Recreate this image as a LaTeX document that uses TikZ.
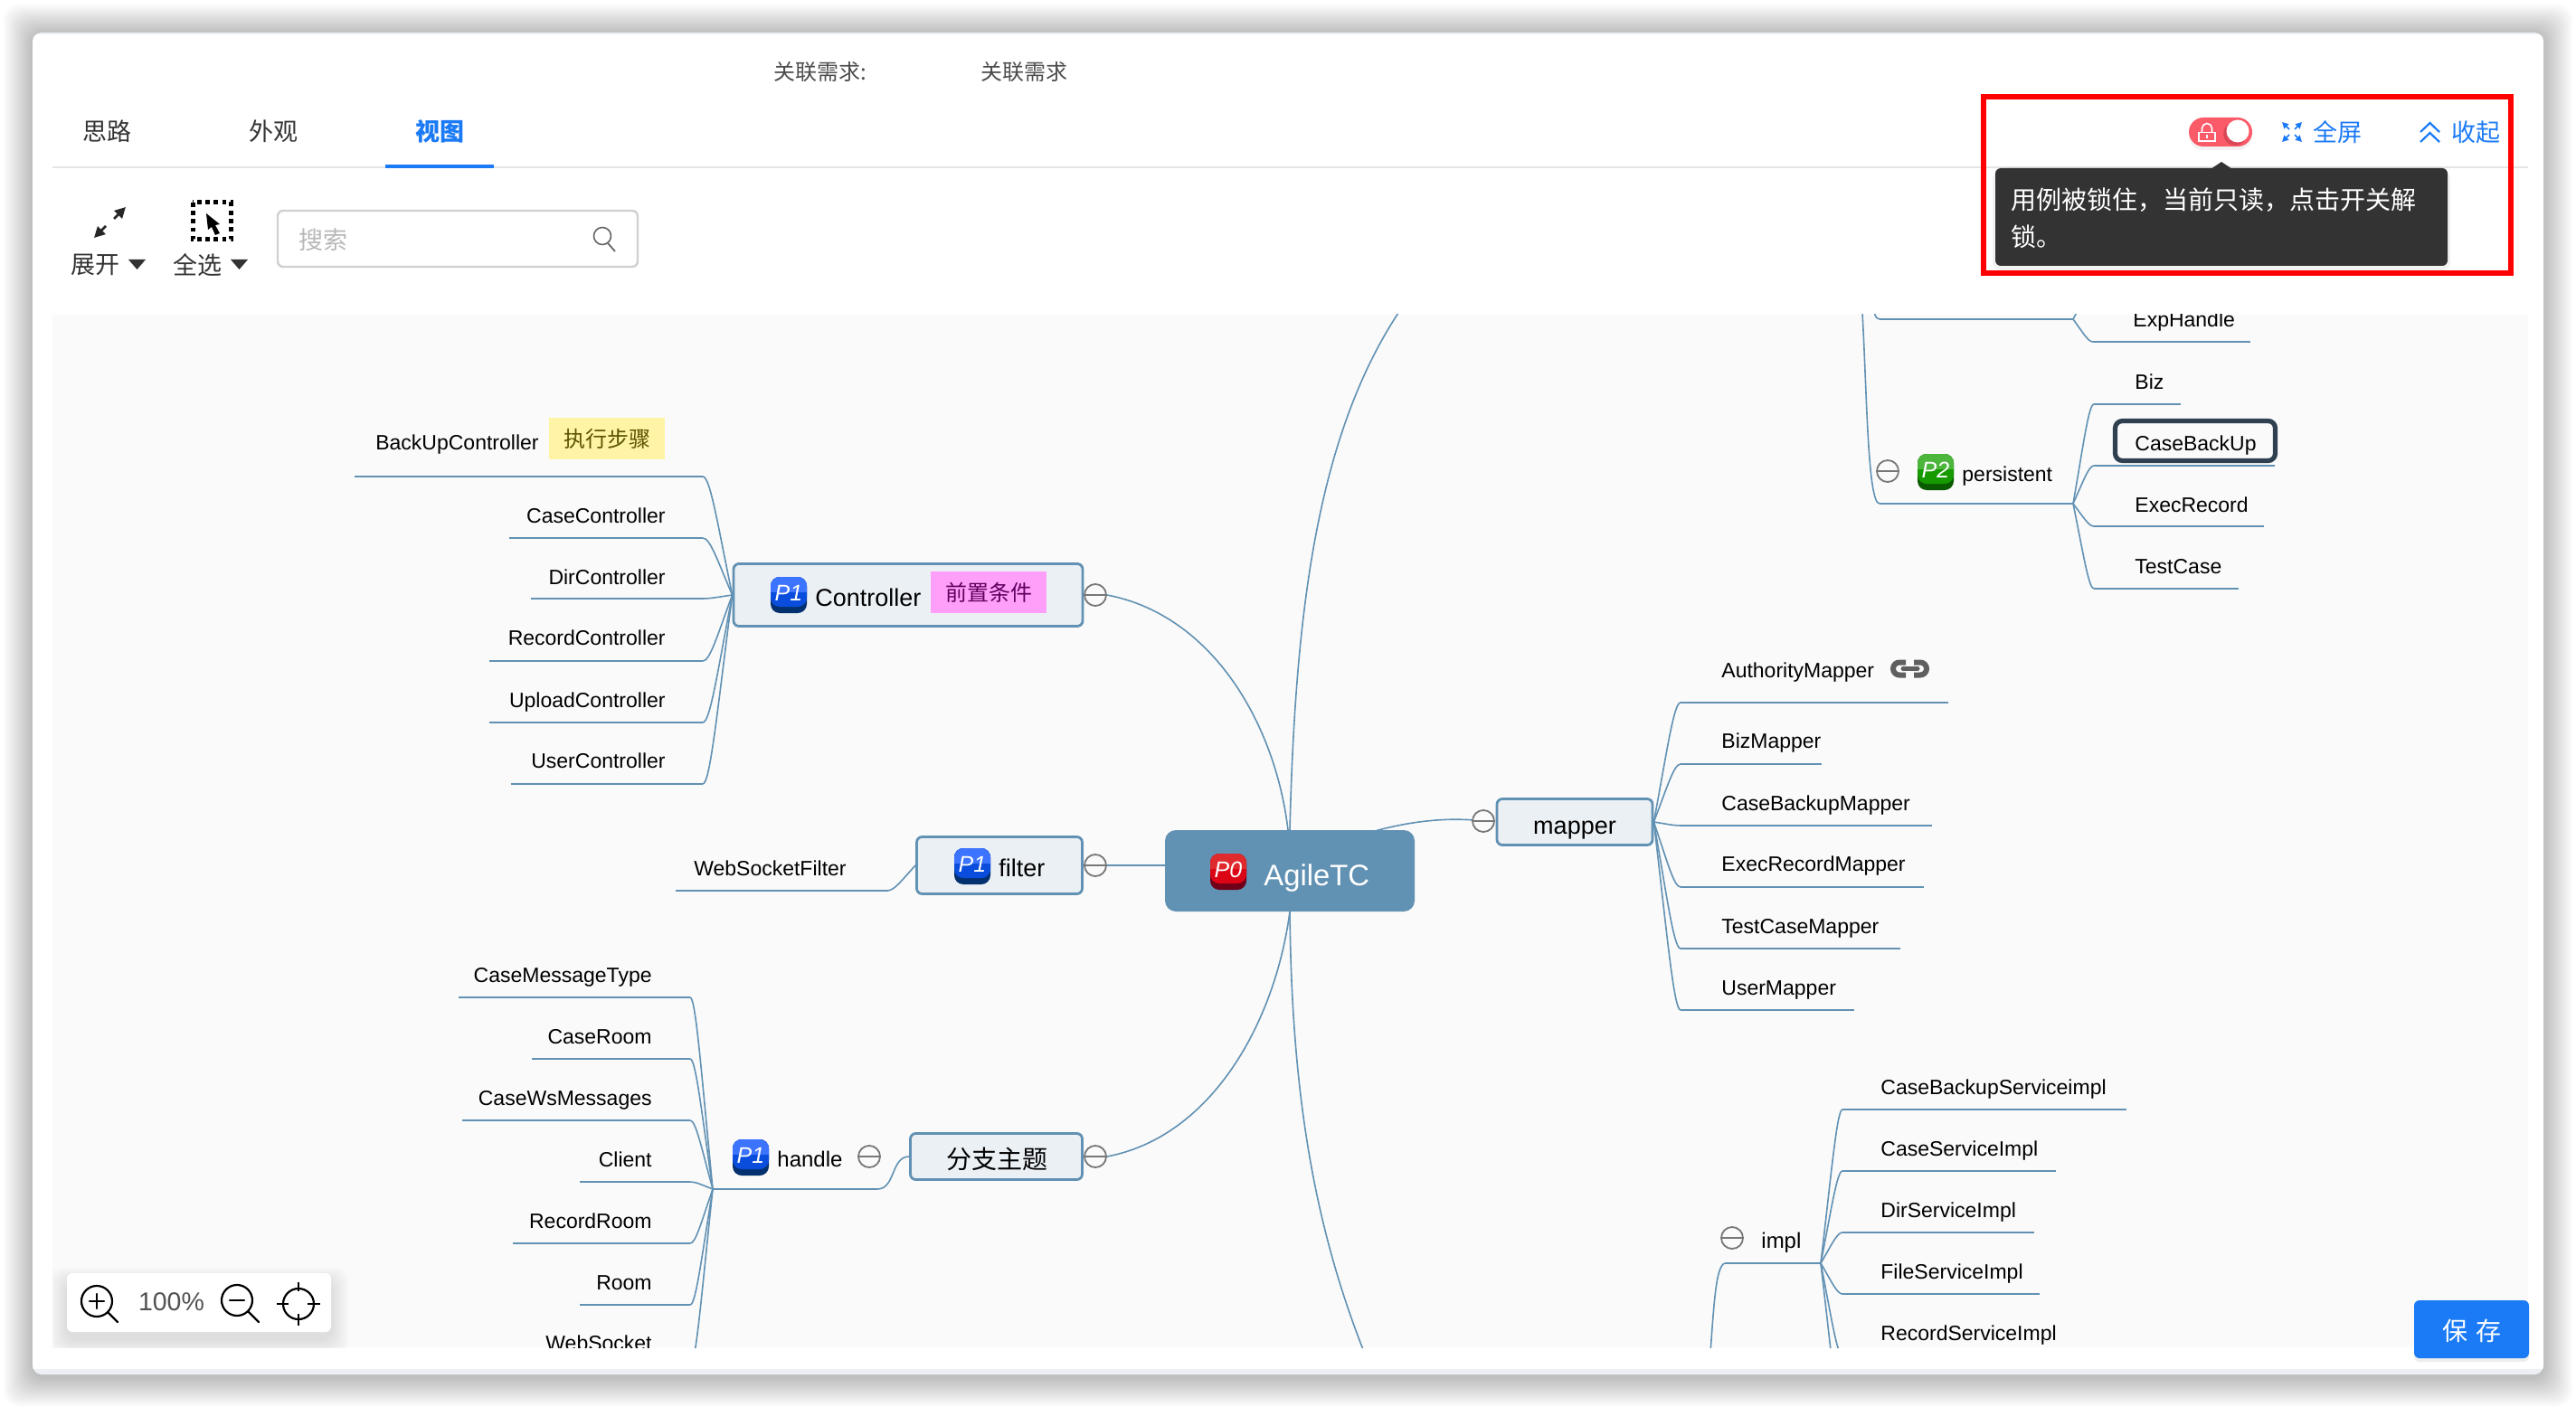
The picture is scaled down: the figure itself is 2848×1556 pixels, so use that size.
\documentclass[tikz,border=0pt]{standalone}
\usepackage{fontspec}
\setmainfont{Liberation Sans}
\newfontfamily\cjk{Noto Sans CJK SC}
\usetikzlibrary{calc,arrows.meta}
\definecolor{linkc}{HTML}{6191B3}
\definecolor{canvasc}{HTML}{FAFAFA}
\definecolor{boxc}{HTML}{EBF0F5}
\definecolor{bluec}{HTML}{1B7AF5}
\definecolor{tipc}{HTML}{333333}
\definecolor{exc}{HTML}{777777}
\definecolor{bandc}{HTML}{ECEFF4}
\definecolor{rulec}{HTML}{E4E4E4}
\definecolor{searchc}{HTML}{D0D0D0}
\definecolor{pta}{HTML}{E02B2E}\definecolor{ptb}{HTML}{DC0515}\definecolor{ptc}{HTML}{6F0018}
\definecolor{pba}{HTML}{3C74FF}\definecolor{pbb}{HTML}{0A4DDC}\definecolor{pbc}{HTML}{03306E}
\definecolor{pga}{HTML}{4CB63C}\definecolor{pgb}{HTML}{169A00}\definecolor{pgc}{HTML}{0A5A00}
\definecolor{pinkc}{HTML}{FF9FF9}\definecolor{pinkt}{HTML}{5E0060}
\definecolor{yelc}{HTML}{FFF3A5}\definecolor{yelt}{HTML}{5C5300}
\definecolor{iconc}{HTML}{5F5F5F}
\definecolor{selc}{HTML}{2F4050}
\definecolor{savesh}{HTML}{EDEDED}
\definecolor{togc}{HTML}{FB5A68}
\definecolor{togd}{HTML}{B03040}
\definecolor{redc}{HTML}{FF0000}
\tikzset{
 link/.style={draw=linkc,line width=.8pt},
 under/.style={draw=linkc,line width=1.2pt},
 leaf/.style={inner sep=0pt,yshift=-1pt,text height=8.4pt,text depth=2.4pt,font=\fontsize{11.5}{14}\selectfont,text=black},
 topic/.style={draw=linkc,fill=boxc,line width=1.4pt,rounded corners=3pt,inner sep=0pt},
 expander/.style={circle,draw=exc,fill=canvasc,line width=.9pt,minimum size=12pt,inner sep=0pt},
 tabtext/.style={inner sep=0pt,font=\cjk\fontsize{13.5}{16}\selectfont,text=black!80},
 bluetext/.style={inner sep=0pt,font=\cjk\fontsize{13.5}{16}\selectfont,text=bluec},
 tag/.style={inner sep=0pt,font=\cjk\fontsize{12}{14}\selectfont},
}
\newcommand\branchlink[2]{\draw[link] let \p1=(#1),\p2=(#2) in (\p1) .. controls ({\x1+.5*(\x2-\x1)},{\y1+.6*(\y2-\y1)}) and ({\x2-.25*(\x2-\x1)},\y2) .. (\p2);}
\newcommand\lf[9]{%
 \node[leaf,anchor=#2] (#1) at (#3,#4) {#5};
 \coordinate (#1-s) at (#6,#7);
 \coordinate (#1-e) at (#8,#7);
 \branchlink{#9}{#1-s}
 \draw[under] (#1-s) -- (#1-e);
}
\newcommand\badge[7]{%
 \fill[#7,rounded corners=5pt] ({#2-20},{#3-20}) rectangle ({#2+20},{#3+20});
 \fill[#6,rounded corners=5pt] ({#2-20},{#3-20}) rectangle ({#2+20},{#3+13});
 \begin{scope}
 \clip[rounded corners=5pt] ({#2-20},{#3-20}) rectangle ({#2+20},{#3+20});
 \fill[#5] ({#2-20},{#3-20}) rectangle ({#2+20},{#3-3});
 \end{scope}
 \node[inner sep=0pt,text=white,font=\itshape\fontsize{12.5}{14}\selectfont] (#1) at (#2,{#3-2}) {#4};
}
\newcommand\exmark[3]{%
 \node[expander] (#1) at (#2,#3) {};
 \draw[exc,line width=.9pt] ($(#1.west)+(2,0)$) -- ($(#1.east)+(-2,0)$);
}
\begin{document}
\begin{tikzpicture}[x=.5pt,y=-.5pt]
\useasboundingbox (0,0) rectangle (2848,1556);
\fill[white] (0,0) rectangle (2848,1556);
% window shadow
\foreach \i in {1,...,16}{
 \fill[black,opacity=.016,rounded corners=8pt] ({36-2*\i},{36-2*\i+1}) rectangle ({2812+2*\i},{1520+2*\i+3});
}
% window
\fill[bandc,rounded corners=5pt] (36,36) rectangle (2812,1520);
\begin{scope}
\clip[rounded corners=5pt] (36,36) rectangle (2812,1520);
\fill[white] (36,38) rectangle (2812,1514);
\end{scope}
% header
\node[tag,text=black!70,anchor=west] (rel1) at (855,80) {关联需求:};
\node[tag,text=black!70,anchor=west] (rel2) at (1084,80) {关联需求};
\node[tabtext] (t1) at (118,145) {思路};
\node[tabtext] (t2) at (302,145) {外观};
\node[tabtext,text=bluec,font=\cjk\bfseries\fontsize{13.5}{16}\selectfont] (t3) at (486,145) {视图};
\draw[rulec,line width=1.2pt] (58,185) -- (2795,185);
\fill[bluec] (426,182.5) rectangle (546,186);
% toolbar
\draw[black!85,line width=1.3pt,-{Triangle[length=6pt,width=6pt]}] (117,250) -- (104,263);
\draw[black!85,line width=1.3pt,-{Triangle[length=6pt,width=6pt]}] (126,242) -- (139,229);
\draw[black,line width=2.5pt,dash pattern=on 2.3pt off 2.3pt] (213,224) rectangle (255,265);
\fill[black] (228,236) -- (243,248) -- (238,249) -- (243,258) -- (238,260) -- (234,251) -- (230,254) -- cycle;
\node[tabtext] (expand) at (105,293) {展开};
\fill[tipc] (142,287) -- (161,287) -- (151.5,298) -- cycle;
\node[tabtext] (selall) at (218,293) {全选};
\fill[tipc] (255,287) -- (274,287) -- (264.5,298) -- cycle;
\draw[searchc,line width=1.2pt,fill=white,rounded corners=3pt] (307,233) rectangle (705,295);
\node[tabtext,text=black!28] (search) at (357,265.5) {搜索};
\draw[black!60,line width=.8pt] (666,261) circle (9.5);
\draw[black!60,line width=.9pt] (672,269) -- (680,278);
% canvas
\begin{scope}
\clip (58,348) rectangle (2795,1490);
\fill[canvasc] (58,348) rectangle (2795,1490);
% main lines
\draw[link] (1426,918) .. controls (1432,680) and (1455,480) .. (1550,340);
\draw[link] (1426,1008) .. controls (1428,1200) and (1450,1350) .. (1510,1500);
\draw[link] (1500,925) .. controls (1540,912) and (1590,902) .. (1640,908);
% root
\node[fill=linkc,rounded corners=6pt,minimum width=138pt,minimum height=45pt,inner sep=0pt] (root) at (1426,963) {};
\node[inner sep=0pt,text=white,font=\fontsize{16.4}{20}\selectfont,anchor=west] (rootlabel) at (1397,971) {AgileTC};
\badge{p0}{1358}{964}{P0}{pta}{ptb}{ptc}
% controller
\node[topic,minimum width=193pt,minimum height=34.5pt] (ctrl) at (1004,658) {};
\badge{pc}{872}{658}{P1}{pba}{pbb}{pbc}
\node[inner sep=0pt,anchor=west,font=\fontsize{13.5}{16}\selectfont] (ctrltext) at (901,661) {Controller};
\node[fill=pinkc,minimum width=64pt,minimum height=23pt,inner sep=0pt] (pretag) at (1093,655) {};
\node[tag,text=pinkt] at (pretag) {前置条件};
\exmark{xc}{1211}{658}
\draw[link] (xc.east) .. controls (1340,680) and (1410,800) .. (1424,918);
\lf{backup}{east}{596}{489}{BackUpController}{777}{527}{392}{ctrl.west}
\node[fill=yelc,minimum width=64pt,minimum height=22.5pt,inner sep=0pt] (exectag) at (671,485) {};
\node[tag,text=yelt] at (exectag) {执行步骤};
\lf{casec}{east}{736}{570}{CaseController}{777}{595}{563}{ctrl.west}
\lf{dirc}{east}{736}{638}{DirController}{777}{662}{587}{ctrl.west}
\lf{recc}{east}{736}{705}{RecordController}{777}{731}{541}{ctrl.west}
\lf{upc}{east}{736}{774}{UploadController}{777}{799}{541}{ctrl.west}
\lf{userc}{east}{736}{841}{UserController}{777}{867}{565}{ctrl.west}
% filter
\node[topic,minimum width=91.5pt,minimum height=31.5pt] (filter) at (1105,957) {};
\badge{pf}{1075}{958}{P1}{pba}{pbb}{pbc}
\node[inner sep=0pt,anchor=west,font=\fontsize{13.5}{16}\selectfont] (filtertext) at (1104,960) {filter};
\exmark{xf}{1211}{957}
\draw[link] (xf.east) -- (root.west |- xf.east);
\lf{wsf}{east}{936}{960}{WebSocketFilter}{981}{985}{747}{filter.west}
% branch topic
\node[topic,minimum width=95pt,minimum height=25.5pt] (subj) at (1101.5,1279) {};
\node[inner sep=0pt,font=\cjk\fontsize{14}{16}\selectfont] (subjtext) at (1102,1282) {分支主题};
\exmark{xs}{1211}{1279}
\draw[link] (xs.east) .. controls (1340,1257) and (1410,1130) .. (1426,1008);
% handle
\coordinate (hhub) at (788,1315);
\coordinate (hhubr) at (970,1315);
\draw[under] (hhub) -- (hhubr);
\draw[link] (hhubr) .. controls (990,1315) and (985,1279) .. (subj.west);
\badge{ph}{830}{1280}{P1}{pba}{pbb}{pbc}
\node[leaf,anchor=west,font=\fontsize{12}{14}\selectfont] (handletext) at (859,1282) {handle};
\exmark{xh}{961}{1279}
\lf{cmt}{east}{721}{1078}{CaseMessageType}{763}{1103}{507}{hhub}
\lf{croom}{east}{721}{1146}{CaseRoom}{763}{1171}{588}{hhub}
\lf{cws}{east}{721}{1214}{CaseWsMessages}{763}{1239}{511}{hhub}
\lf{client}{east}{721}{1282}{Client}{763}{1307}{641}{hhub}
\lf{rroom}{east}{721}{1350}{RecordRoom}{763}{1375}{567}{hhub}
\lf{room}{east}{721}{1418}{Room}{763}{1443}{641}{hhub}
\lf{wsock}{east}{721}{1485}{WebSocket}{763}{1511}{585}{hhub}
% mapper
\node[topic,minimum width=86pt,minimum height=25.5pt] (mapper) at (1741,909) {};
\node[inner sep=0pt,font=\fontsize{13.5}{16}\selectfont] (mappertext) at (1741,918) {mapper};
\exmark{xm}{1640}{908}
\lf{authm}{west}{1903}{741}{AuthorityMapper}{1858}{777}{2154}{mapper.east}
\draw[iconc,line width=3pt] (2107,732.5) -- (2100,732.5) arc[start angle=270,end angle=90,x radius=7,y radius=7] -- (2107,746.5);
\draw[iconc,line width=3pt] (2116,732.5) -- (2123,732.5) arc[start angle=270,end angle=450,x radius=7,y radius=7] -- (2116,746.5);
\draw[iconc,line width=2.5pt,line cap=round] (2104,739.5) -- (2120,739.5);
\lf{bizm}{west}{1903}{819}{BizMapper}{1858}{845}{2014}{mapper.east}
\lf{cbm}{west}{1903}{888}{CaseBackupMapper}{1858}{913}{2136}{mapper.east}
\lf{erm}{west}{1903}{955}{ExecRecordMapper}{1858}{981}{2127}{mapper.east}
\lf{tcm}{west}{1903}{1024}{TestCaseMapper}{1858}{1049}{2101}{mapper.east}
\lf{um}{west}{1903}{1092}{UserMapper}{1858}{1117}{2050}{mapper.east}
% top right
\coordinate (spinetop) at (2058,330);
\coordinate (phub) at (2292,557);
\coordinate (pleft) at (2078,557);
\draw[under] (pleft) -- (phub);
\draw[link] (spinetop) .. controls (2064,420) and (2064,557) .. (pleft);
\coordinate (ehub) at (2292,353);
\coordinate (eleft) at (2078,353);
\coordinate (etop) at (2070,335);
\coordinate (etopr) at (2300,338);
\draw[under] (eleft) -- (ehub);
\draw[link] (etop) .. controls (2072,345) and (2073,353) .. (eleft);
\draw[link] (ehub) -- (etopr);
\lf{exph}{west}{2358}{354}{ExpHandle}{2314}{378}{2488}{ehub}
\exmark{xp}{2087}{521}
\badge{pp}{2140}{522}{P2}{pga}{pgb}{pgc}
\node[leaf,anchor=west] (persist) at (2169,524) {persistent};
\lf{biz}{west}{2360}{422}{Biz}{2315}{447}{2411}{phub}
\node[draw=selc,line width=2.6pt,rounded corners=4pt,fill=canvasc,minimum width=88.5pt,minimum height=22pt,inner sep=0pt] (cbubox) at (2427,487.5) {};
\lf{cbu}{west}{2360}{490}{CaseBackUp}{2315}{515}{2515}{phub}
\lf{er}{west}{2360}{558}{ExecRecord}{2315}{582}{2503}{phub}
\lf{tc}{west}{2360}{626}{TestCase}{2315}{651}{2475}{phub}
% impl
\coordinate (ihub) at (2013,1397);
\coordinate (ileft) at (1907,1397);
\coordinate (ibot) at (1890,1510);
\draw[under] (ileft) -- (ihub);
\draw[link] (ileft) .. controls (1897,1400) and (1895,1440) .. (ibot);
\exmark{xi}{1915}{1369}
\node[leaf,anchor=west,font=\fontsize{12}{14}\selectfont] (impl) at (1947,1372) {impl};
\lf{cbs}{west}{2079}{1202}{CaseBackupServiceimpl}{2037}{1227}{2351}{ihub}
\lf{css}{west}{2079}{1270}{CaseServiceImpl}{2037}{1295}{2273}{ihub}
\lf{dss}{west}{2079}{1338}{DirServiceImpl}{2037}{1363}{2249}{ihub}
\lf{fss}{west}{2079}{1406}{FileServiceImpl}{2037}{1431}{2255}{ihub}
\lf{rss}{west}{2079}{1474}{RecordServiceImpl}{2037}{1499}{2300}{ihub}
\coordinate (imore) at (2037,1567);
\branchlink{ihub}{imore}
% zoom widget shadow
\foreach \i in {1,...,14}{
 \fill[black,opacity=.009,rounded corners=7pt] ({74-1.4*\i},{1408-1.2*\i+10}) rectangle ({366+1.4*\i},{1473+1.4*\i+8});
}
\end{scope}
% zoom widget
\node[fill=white,rounded corners=3pt,minimum width=146pt,minimum height=32.5pt,inner sep=0pt] (zoomw) at (220,1440.5) {};
\begin{scope}[black,line width=1.1pt,line cap=round]
\draw (107,1439) circle (17);
\draw (119,1451) -- (130,1462);
\draw (99,1439) -- (115,1439) (107,1431) -- (107,1447);
\draw (262,1438) circle (17);
\draw (274,1450) -- (286,1462);
\draw (254,1438) -- (270,1438);
\draw (330,1442) circle (17);
\draw[line cap=butt] (306,1442) -- (319,1442) (340,1442) -- (354,1442) (330,1418) -- (330,1428) (330,1453) -- (330,1466);
\end{scope}
\node[inner sep=0pt,font=\fontsize{14.25}{16}\selectfont,text=black!68] (zoomp) at (189.5,1440) {100\%};
% save
\fill[savesh,rounded corners=3pt] (2669,1442) rectangle (2796,1506);
\node[fill=bluec,rounded corners=3pt,minimum width=63.5pt,minimum height=32pt,inner sep=0pt] (save) at (2732.5,1470) {};
\node[inner sep=0pt,text=white,font=\cjk\fontsize{14}{16}\selectfont,yshift=-1pt] (savetext) at (save) {保\hspace{4.5pt}存};
% top right controls
\fill[black,opacity=.05,rounded corners=8pt] (2420,134) rectangle (2490,166);
\node[fill=togc,rounded corners=8pt,minimum width=35pt,minimum height=16pt,inner sep=0pt] (toggle) at (2455,146) {};
\fill[togd,opacity=.45] (2471,148) circle (13);
\fill[white] (2474,145) circle (12.5);
\draw[white,line width=.8pt] (2431,146.5) rectangle (2449,156);
\draw[white,line width=.8pt] (2434.5,146.5) -- (2434.5,142) arc[start angle=180,end angle=360,x radius=5.5,y radius=5.5] -- (2445.5,146.5);
\fill[white] (2439,149) rectangle (2441,153);
\begin{scope}[bluec,line width=.8pt]
\draw[-{Triangle[length=3.5pt,width=3.5pt]}] (2531,143) -- (2523,135);
\draw[-{Triangle[length=3.5pt,width=3.5pt]}] (2537,143) -- (2545,135);
\draw[-{Triangle[length=3.5pt,width=3.5pt]}] (2531,149) -- (2523,157);
\draw[-{Triangle[length=3.5pt,width=3.5pt]}] (2537,149) -- (2545,157);
\end{scope}
\node[bluetext] (fs) at (2584,146) {全屏};
\draw[bluec,line width=1.1pt] (2676,146) -- (2686.5,136) -- (2697,146) (2676,157) -- (2686.5,147) -- (2697,157);
\node[bluetext] (coll) at (2737,146) {收起};
% tooltip
\fill[black,opacity=.05,rounded corners=4pt] (2203,190) rectangle (2709,299);
\fill[tipc] (2444,187) -- (2456,179) -- (2468,187) -- cycle;
\node[fill=tipc,rounded corners=3pt,minimum width=250pt,minimum height=54pt,inner sep=0pt] (tipbox) at (2456,240) {};
\node[inner sep=0pt,anchor=west,align=left,text=white,font=\cjk\fontsize{14}{20.5}\selectfont] (tiptext) at (2223,241) {用例被锁住\char"FF0C 当前只读\char"FF0C 点击开关解\\锁。};
% red frame
\draw[redc,line width=3pt] (2193,107) rectangle (2776,302);
\end{tikzpicture}
\end{document}
